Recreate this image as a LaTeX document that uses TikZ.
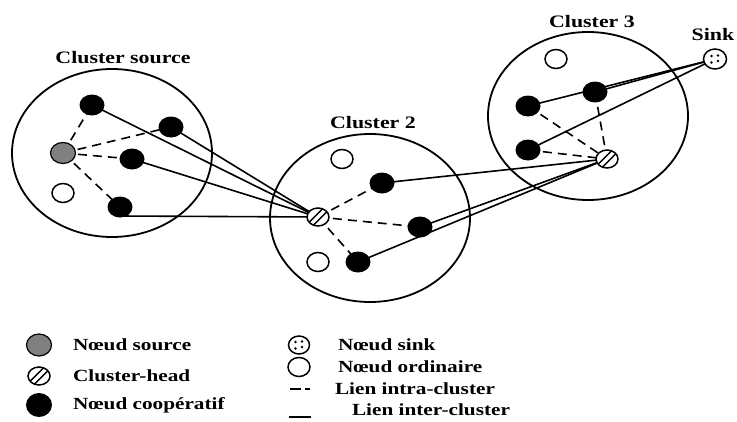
\documentclass[tikz,border=0pt]{standalone}
\usepackage{fontspec}
\setmainfont{Liberation Serif}[FakeStretch=1.25]
\usetikzlibrary{shapes.geometric}

\tikzset{
  every node/.style={inner sep=0pt, outer sep=0pt},
  cluster/.style={draw, ellipse, line width=1.8pt, minimum width=200pt, minimum height=168pt},
  coop/.style={ellipse, fill=black, minimum width=25pt, minimum height=21pt},
  src/.style={ellipse, draw, line width=1.2pt, fill=black!50, minimum width=25pt, minimum height=21pt},
  ord/.style={ellipse, draw, line width=1.5pt, fill=white, minimum width=22pt, minimum height=19pt},
  chead/.style={ellipse, draw, line width=1.5pt, fill=white, minimum width=22pt, minimum height=18pt,
    path picture={
      \draw[line width=1.4pt] ([shift={(-1.8pt,1.8pt)}]path picture bounding box.center) ++(-12pt,-12pt) -- ++(24pt,24pt);
      \draw[line width=1.4pt] ([shift={(1.8pt,-1.8pt)}]path picture bounding box.center) ++(-12pt,-12pt) -- ++(24pt,24pt);
    }},
  sinkn/.style={ellipse, draw, line width=1.5pt, fill=white, minimum width=23pt, minimum height=20pt},
  sinkdot/.style={fill=black},
  intra/.style={line width=1.6pt, dash pattern=on 9pt off 6pt},
  inter/.style={line width=1.6pt},
  title/.style={font=\bfseries\fontsize{17.5}{20}\selectfont},
  legtext/.style={font=\bfseries\fontsize{17}{20}\selectfont, anchor=west},
}

\begin{document}
\begin{tikzpicture}[x=1pt, y=-1pt]
\useasboundingbox (0,0) rectangle (737,421);

% cluster outlines
\node[cluster] (c1) at (112,153) {};
\node[cluster] (c2) at (370,218) {};
\node[cluster] (c3) at (588,116) {};

% titles
\node[title] (t1) at (123,58) {Cluster source};
\node[title] (t2) at (373,123) {Cluster 2};
\node[title] (t3) at (592,22) {Cluster 3};
\node[title] (t4) at (713,35) {Sink};

% cluster source
\coordinate (p1) at (92,105);
\coordinate (p2) at (171,127);
\coordinate (p3) at (132,159);
\coordinate (p4) at (120,207);
\coordinate (ps) at (63,153);
\coordinate (po) at (63,193);
% cluster 2
\coordinate (q0) at (318,217);
\coordinate (q1) at (382,183);
\coordinate (q2) at (420,227);
\coordinate (q3) at (358,262);
\coordinate (qo1) at (342,159);
\coordinate (qo2) at (318,262);
% cluster 3
\coordinate (r0) at (607,159);
\coordinate (r1) at (528,106);
\coordinate (r2) at (595,92);
\coordinate (r3) at (528,150);
\coordinate (ro) at (556,59);
\coordinate (sk) at (715,59);

% links
\draw[intra] (ps) -- (p1);
\draw[intra] (ps) -- (p2);
\draw[intra] (ps) -- (p3);
\draw[intra] (ps) -- (p4);
\draw[inter] (p1) -- (q0);
\draw[inter] (p2) -- (q0);
\draw[inter] (p3) -- (q0);
\coordinate (p4low) at (120,216);
\draw[inter] (p4low) -- (q0);
\draw[intra] (q0) -- (q1);
\draw[intra] (q0) -- (q2);
\draw[intra] (q0) -- (q3);
\draw[inter] (q1) -- (r0);
\draw[inter] (q2) -- (r0);
\draw[inter] (q3) -- (r0);
\draw[intra] (r1) -- (r0);
\draw[intra] (r2) -- (r0);
\draw[intra] (r3) -- (r0);
\draw[inter] (r1) -- (sk);
\draw[inter] (r2) -- (sk);
\draw[inter] (r3) -- (sk);

% nodes
\node[coop] (n1) at (p1) {};
\node[coop] (n2) at (p2) {};
\node[coop] (n3) at (p3) {};
\node[coop] (n4) at (p4) {};
\node[src] (ns) at (ps) {};
\node[ord] (no) at (po) {};
\node[chead] (m0) at (q0) {};
\node[coop] (m1) at (q1) {};
\node[coop] (m2) at (q2) {};
\node[coop] (m3) at (q3) {};
\node[ord] (mo1) at (qo1) {};
\node[ord] (mo2) at (qo2) {};
\node[chead] (k0) at (r0) {};
\node[coop] (k1) at (r1) {};
\node[coop] (k2) at (r2) {};
\node[coop] (k3) at (r3) {};
\node[ord] (ko) at (ro) {};
\node[sinkn] (ksink) at (sk) {};

% legend
\node[src, minimum width=25pt, minimum height=22pt] (l1) at (39,345) {};
\node[chead] (l2) at (39,376) {};
\node[coop, minimum width=26pt, minimum height=24pt] (l3) at (39,405) {};
\node[legtext] (lt1) at (73,345) {Nœud source};
\node[legtext] (lt2) at (73,376) {Cluster-head};
\node[legtext] (lt3) at (73,405) {Nœud coopératif};

\node[sinkn, minimum width=21pt, minimum height=18pt] (l4) at (299,345) {};

% dots inside the sink symbols
\foreach \s in {ksink, l4} {
  \fill[sinkdot] ([shift={(-3.5pt,3pt)}]\s.center) circle (1.4pt);
  \fill[sinkdot] ([shift={(-3.5pt,-3.5pt)}]\s.center) circle (1.4pt);
  \fill[sinkdot] ([shift={(3pt,3.5pt)}]\s.center) circle (1.4pt);
  \fill[sinkdot] ([shift={(3pt,-2pt)}]\s.center) circle (1.4pt);
}

\node[ord] (l5) at (299,367) {};
\coordinate (d1) at (290,389);
\coordinate (d2) at (310,389);
\draw[line width=1.4pt, dash pattern=on 11pt off 4pt] (d1) -- (d2);
\coordinate (s1) at (289,417);
\coordinate (s2) at (311,417);
\draw[line width=1.4pt] (s1) -- (s2);
\node[legtext] (lt4) at (338,345) {Nœud sink};
\node[legtext] (lt5) at (338,367) {Nœud ordinaire};
\node[legtext] (lt6) at (335,389) {Lien intra-cluster};
\node[legtext] (lt7) at (352,410) {Lien inter-cluster};
\end{tikzpicture}
\end{document}
